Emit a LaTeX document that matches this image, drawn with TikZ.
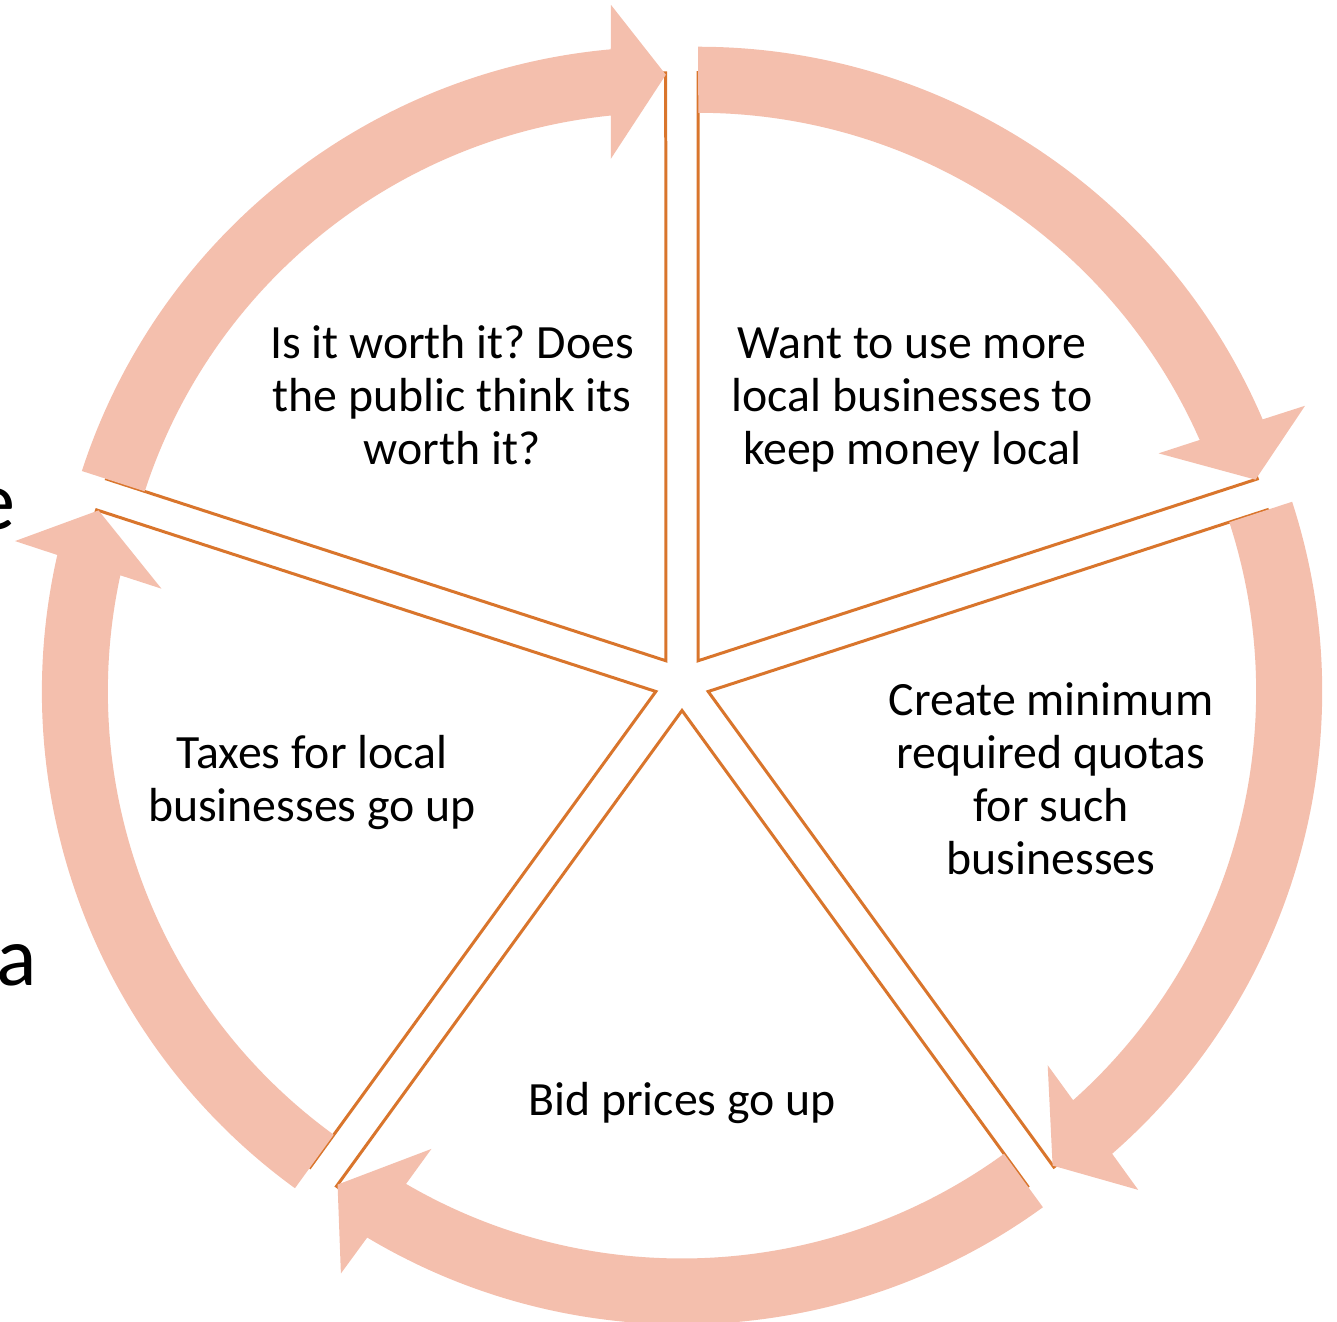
\documentclass[tikz,border=0pt]{standalone}
\usepackage{fontspec}
\setmainfont{Carlito}
\usetikzlibrary{calc}
\definecolor{arrowfill}{RGB}{244,191,173}
\definecolor{segline}{RGB}{217,117,44}
\frenchspacing
\begin{document}
\begin{tikzpicture}[x=0.02cm,y=0.02cm,
  segment/.style={draw=segline, line width=0.06cm, fill=white, line join=miter},
  cyclearrow/.style={fill=arrowfill, draw=none},
  lbl/.style={font=\fontsize{27.2}{30.2}\selectfont, align=center, inner sep=0pt, text=black},
  stray/.style={font=\fontsize{48}{58}\selectfont, inner sep=0pt, anchor=base east}]
\useasboundingbox (0,0) rectangle (1337,1321);
% pie segments
\foreach \b/\nm in {126/s1,54/s2,-18/s3,-90/s4,198/s5}{
  \coordinate (\nm) at ($(682,638)+({\b}:27.5)$);
  \draw[segment] (\nm) -- ($(\nm)+({\b+36}:588)$)
     arc[start angle={\b+36}, end angle={\b-36}, radius=11.76cm] -- cycle;
}
% curved arrows
\foreach \b/\nm in {126/s1,54/s2,-18/s3,-90/s4,198/s5}{
  \fill[cyclearrow] ($(\nm)+({\b+36}:614)$)
     arc[start angle={\b+36}, end angle={\b-30.86}, radius=12.28cm]
     -- ($(\nm)+({\b-31.21}:658.3)$)
     -- ($(\nm)+({\b-36}:586)$)
     -- ($(\nm)+({\b-29.75}:505)$)
     -- ($(\nm)+({\b-30.24}:548)$)
     arc[start angle={\b-30.24}, end angle={\b+36}, radius=10.96cm] -- cycle;
}
% texts
\node[lbl] (t1) at (452,926) {Is it worth it? Does\\the public think its\\worth it?};
\node[lbl] (t2) at (912,921) {Want to use more\\local businesses to\\keep money local};
\node[lbl] (t3) at (1051,542.5) {Create minimum\\required quotas\\for such\\businesses};
\node[lbl] (t4) at (682,218) {Bid prices go up};
\node[lbl] (t5) at (312,538.5) {Taxes for local\\businesses go up};
% partly hidden letters at the left edge
\begin{scope}
\clip (0,0) rectangle (1337,1321);
\node[stray] (le) at (16,791) {e};
\node[stray] (la) at (37,335) {a};
\end{scope}
\end{tikzpicture}
\end{document}
